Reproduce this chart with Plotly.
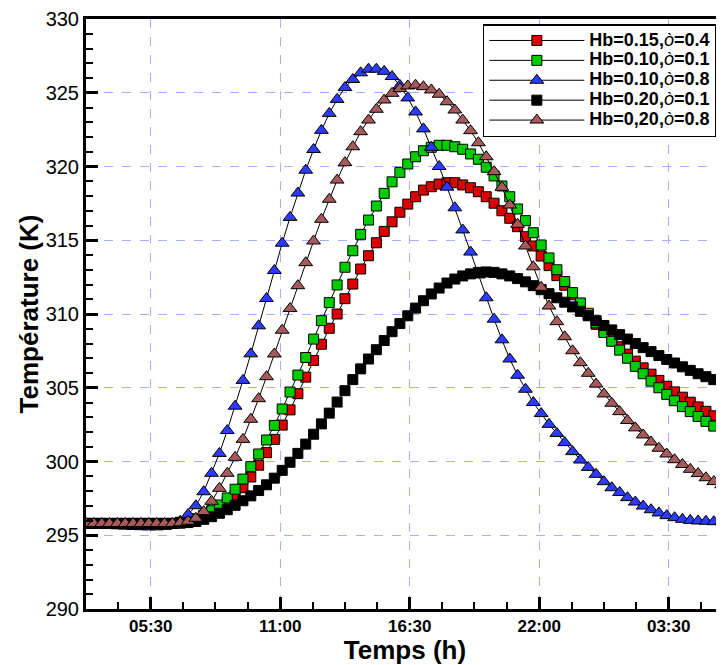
import plotly.graph_objects as go

# sampling grid (hours, every 20 min)
time_h = [2.75 + i / 3 for i in range(82)]

x_tick_vals = [5.5, 11.0, 16.5, 22.0, 27.5]
x_tick_labels = ["05:30", "11:00", "16:30", "22:00", "03:30"]

t_hb015_e04 = [295.8] * 12 + [
    295.85, 295.92, 296.05, 296.25, 296.5, 296.9, 297.3, 297.72, 298.22, 298.95,
    299.75, 300.6, 301.5, 302.47, 303.5, 304.6, 305.72, 306.85, 307.95, 309.03,
    310.0, 311.04, 312.03, 313.05, 313.95, 314.83, 315.6, 316.25, 316.9, 317.45,
    317.95, 318.4, 318.63, 318.81, 318.9, 318.9, 318.75, 318.56, 318.29, 317.95,
    317.51, 317.0, 316.49, 315.92, 315.24, 314.61, 313.93, 313.28, 312.6, 311.95,
    311.3, 310.65, 309.95, 309.3, 308.8, 308.28, 307.78, 307.28, 306.8, 306.35,
    305.92, 305.5, 305.1, 304.72, 304.36, 304.02, 303.7, 303.4, 303.1, 302.82]

t_hb010_e01 = [295.8] * 12 + [
    295.88, 295.97, 296.12, 296.35, 296.66, 297.05, 297.53, 298.12, 298.81, 299.65,
    300.51, 301.46, 302.45, 303.56, 304.71, 305.86, 307.05, 308.3, 309.55, 310.77,
    311.97, 313.17, 314.29, 315.4, 316.37, 317.32, 318.18, 318.96, 319.6, 320.17,
    320.66, 321.07, 321.3, 321.44, 321.44, 321.34, 321.17, 320.85, 320.49, 319.95,
    319.36, 318.68, 317.95, 317.12, 316.33, 315.51, 314.68, 313.8, 313.0, 312.2,
    311.45, 310.75, 310.05, 309.4, 308.75, 308.15, 307.55, 307.0, 306.45, 305.95,
    305.45, 305.0, 304.55, 304.12, 303.72, 303.38, 303.05, 302.72, 302.4, 302.1]

t_hb010_e08 = [
    295.75, 295.72, 295.7, 295.67, 295.64, 295.62, 295.6, 295.58, 295.57, 295.57,
    295.6, 295.7, 295.95, 296.4, 297.0, 297.95, 299.2, 300.55, 302.1, 303.75,
    305.5, 307.3, 309.2, 311.05, 312.95, 314.8, 316.55, 318.2, 319.75, 321.15,
    322.45, 323.6, 324.55, 325.35, 325.9, 326.35, 326.6, 326.6, 326.45, 326.1,
    325.5, 324.65, 323.7, 322.55, 321.3, 320.0, 318.6, 317.2, 315.7, 314.2,
    312.65, 311.1, 309.65, 308.25, 306.95, 305.85, 304.9, 304.0, 303.25, 302.52,
    301.9, 301.28, 300.67, 300.1, 299.6, 299.13, 298.63, 298.22, 297.9, 297.55,
    297.25, 296.98, 296.73, 296.51, 296.33, 296.19, 296.08, 296.01, 295.97, 295.95,
    295.92, 295.92]

t_hb020_e01 = [295.8] * 12 + [
    295.82, 295.86, 295.93, 296.08, 296.26, 296.49, 296.73, 297.03, 297.34, 297.67,
    298.03, 298.42, 298.87, 299.4, 299.95, 300.55, 301.18, 301.85, 302.55, 303.28,
    304.03, 304.8, 305.55, 306.28, 306.95, 307.58, 308.2, 308.8, 309.35, 309.88,
    310.4, 310.9, 311.36, 311.76, 312.1, 312.37, 312.58, 312.72, 312.82, 312.85,
    312.82, 312.72, 312.58, 312.4, 312.18, 311.92, 311.65, 311.38, 311.1, 310.8,
    310.48, 310.18, 309.88, 309.55, 309.22, 308.92, 308.6, 308.3, 308.0, 307.72,
    307.45, 307.18, 306.92, 306.68, 306.42, 306.18, 305.95, 305.75, 305.55, 305.38]

t_hb020_e08 = [295.8] * 12 + [
    295.85, 295.95, 296.15, 296.6, 297.3, 298.18, 299.2, 300.28, 301.5, 302.86,
    304.26, 305.75, 307.29, 308.9, 310.37, 311.92, 313.48, 314.95, 316.42, 317.78,
    319.08, 320.26, 321.34, 322.36, 323.15, 323.88, 324.51, 324.96, 325.28, 325.46,
    325.51, 325.41, 325.19, 324.9, 324.39, 323.83, 323.15, 322.43, 321.61, 320.66,
    319.65, 318.59, 317.39, 316.08, 314.61, 313.2, 311.81, 310.54, 309.48, 308.46,
    307.51, 306.7, 305.98, 305.25, 304.58, 303.95, 303.38, 302.78, 302.28, 301.8,
    301.32, 300.9, 300.51, 300.12, 299.8, 299.47, 299.18, 298.9, 298.64, 298.42]

series_labels = ["Hb=0.15,{e}=0.4", "Hb=0.10,{e}=0.1", "Hb=0.10,{e}=0.8",
                 "Hb=0.20,{e}=0.1", "Hb=0,20,{e}=0.8"]
eps = "<span style='font-weight:normal'><i>ò</i></span>"
series_names = ["<span style='font-size:18px'>" + s.format(e=eps) + "</span>"
                for s in series_labels]
series_values = [t_hb015_e04, t_hb010_e01, t_hb010_e08, t_hb020_e01, t_hb020_e08]
series_symbols = ["square", "square", "triangle-up", "square", "triangle-up"]
series_colors = ["#dd0000", "#00cc00", "#2b3bff", "#000000", "#a65a5a"]
series_sizes = [10, 10, 12, 10, 12]

fig = go.Figure()
for name, vals, sym, col, sz in zip(series_names, series_values, series_symbols,
                                     series_colors, series_sizes):
    fig.add_trace(go.Scatter(
        x=time_h, y=vals, mode="lines+markers", name=name,
        line=dict(color="black", width=1),
        marker=dict(symbol=sym, size=sz, color=col,
                    line=dict(color="black", width=1)),
    ))

font_family = "Liberation Sans, Arial, sans-serif"
fig.update_layout(
    width=716, height=657,
    margin=dict(l=78, r=0, t=11, b=56),
    paper_bgcolor="white", plot_bgcolor="white",
    font=dict(family=font_family, color="black"),
    showlegend=True,
    legend=dict(
        x=0.622, y=0.9915, xanchor="left", yanchor="top",
        bgcolor="white", bordercolor="black", borderwidth=1.5,
        font=dict(size=13, family=font_family, weight="bold"),
        itemwidth=95, tracegroupgap=0,
    ),
    xaxis=dict(
        range=[2.75, 29.85], automargin=False, ticklabeloverflow="allow",
        tickmode="array", tickvals=x_tick_vals, ticktext=x_tick_labels,
        ticks="inside", ticklen=12, tickwidth=3, tickcolor="black",
        showline=True, linewidth=3, linecolor="black", mirror=True,
        showgrid=True, gridcolor="#a8aeff", griddash="dash", gridwidth=1,
        zeroline=False,
        minor=dict(tick0=2.75, dtick=1.375, ticks="inside", ticklen=7,
                   tickwidth=1.5, tickcolor="black", showgrid=False),
        tickfont=dict(size=17, weight="bold", family=font_family),
        title=dict(text="<b>Temps (h)</b>", font=dict(size=26, family=font_family),
                   standoff=0),
    ),
    yaxis=dict(
        range=[290, 330], tick0=290, dtick=5, automargin=False,
        ticklabeloverflow="allow",
        ticks="inside", ticklen=12, tickwidth=3, tickcolor="black",
        showline=True, linewidth=3, linecolor="black", mirror=False,
        showgrid=True, gridcolor="#a8aeff", griddash="dash", gridwidth=1,
        zeroline=False,
        minor=dict(dtick=1, ticks="inside", ticklen=7, tickwidth=1.5,
                   tickcolor="black", showgrid=False),
        tickfont=dict(size=20, family=font_family),
        title=dict(text="<b>Température (K)</b>", font=dict(size=26, family=font_family),
                   standoff=0),
    ),
)

fig.write_html("out.html")
